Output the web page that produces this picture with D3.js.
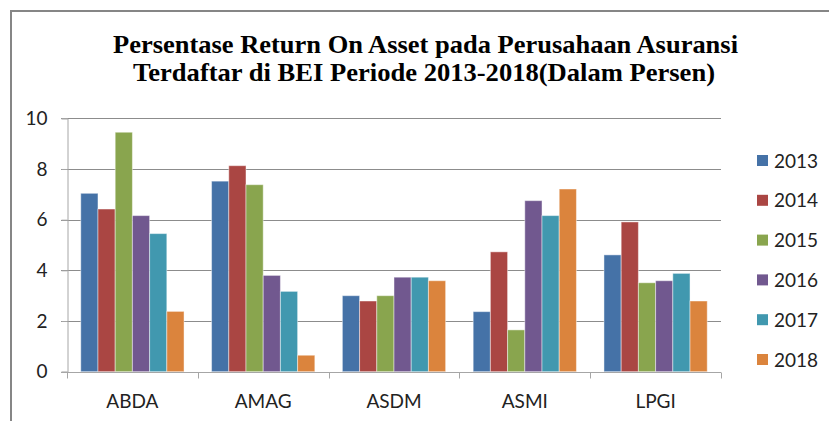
<!DOCTYPE html>
<html lang="id">
<head>
<meta charset="UTF-8">
<title>Return On Asset Asuransi</title>
<script src="https://d3js.org/d3.v7.min.js"></script>
<style>
  body { margin: 0; background: #fff; }
  svg { display: block; }
</style>
</head>
<body>
<svg id="chart"></svg>
<script>
// data
var categories = ["ABDA", "AMAG", "ASDM", "ASMI", "LPGI"];
var years = ["2013", "2014", "2015", "2016", "2017", "2018"];
var v2013 = [7.04, 7.52, 3.00, 2.37, 4.61];
var v2014 = [6.42, 8.13, 2.79, 4.73, 5.91];
var v2015 = [9.45, 7.38, 3.00, 1.65, 3.51];
var v2016 = [6.16, 3.80, 3.73, 6.75, 3.59];
var v2017 = [5.45, 3.17, 3.73, 6.16, 3.88];
var v2018 = [2.38, 0.65, 3.59, 7.21, 2.79];
var yTicks = [0, 2, 4, 6, 8, 10];
var colors = ["#4572A7", "#AA4643", "#89A54E", "#71588F", "#4198AF", "#DB843D"];

var series = [v2013, v2014, v2015, v2016, v2017, v2018];

var W = 829, H = 421;
var svg = d3.select("#chart").attr("width", W).attr("height", H);

// outer frame (cut off at right and bottom)
svg.append("path")
    .attr("d", "M11," + H + "V11H" + W)
    .attr("fill", "none")
    .attr("stroke", "#868686")
    .attr("stroke-width", 2);

// title
var title = svg.append("g")
    .attr("font-family", "'Liberation Serif', 'Times New Roman', serif")
    .attr("font-weight", "bold")
    .attr("font-size", 25)
    .attr("fill", "#000");
title.append("text").attr("x", 113).attr("y", 53)
    .attr("textLength", 625).attr("lengthAdjust", "spacingAndGlyphs")
    .text("Persentase Return  On Asset pada  Perusahaan Asuransi");
title.append("text").attr("x", 133).attr("y", 81)
    .attr("textLength", 582).attr("lengthAdjust", "spacingAndGlyphs")
    .text("Terdaftar  di BEI Periode 2013-2018(Dalam Persen)");

// scales
var plot = { left: 67, right: 721, top: 118.3, bottom: 371.7 };
var x = d3.scaleBand().domain(categories).range([plot.left, plot.right]).padding(0);
var xi = d3.scaleBand().domain(years).range([0, x.bandwidth()])
    .paddingInner(0).paddingOuter(0.8);
var y = d3.scaleLinear().domain([0, 10]).range([plot.bottom, plot.top]);

var font = "Lato, 'Open Sans', sans-serif";

// gridlines
svg.append("g")
    .selectAll("line")
    .data(yTicks.filter(function (d) { return d > 0; }))
    .enter().append("line")
    .attr("x1", plot.left - 6).attr("x2", plot.right)
    .attr("y1", function (d) { return Math.round(y(d)) + 0.5; })
    .attr("y2", function (d) { return Math.round(y(d)) + 0.5; })
    .attr("stroke", "#8c8c8c")
    .attr("stroke-width", 1);

// y axis
var yAxis = svg.append("g")
    .attr("transform", "translate(" + (plot.left + 0.5) + ",0)")
    .call(d3.axisLeft(y).tickValues(yTicks).tickSize(6).tickPadding(14)
        .tickFormat(d3.format("d")));
yAxis.select(".domain").attr("stroke", "#a6a6a6");
yAxis.selectAll(".tick line").attr("stroke", "#a6a6a6");
yAxis.selectAll(".tick text")
    .attr("font-family", font).attr("font-size", 19).attr("fill", "#222");

// bars
var groups = svg.append("g")
    .selectAll("g")
    .data(series)
    .enter().append("g")
    .attr("fill", function (d, i) { return colors[i]; });

groups.each(function (vals, si) {
    d3.select(this).selectAll("rect")
        .data(vals)
        .enter().append("rect")
        .attr("x", function (d, ci) { return x(categories[ci]) + xi(years[si]); })
        .attr("width", xi.bandwidth())
        .attr("y", function (d) { return y(d); })
        .attr("height", function (d) { return y(0) - y(d); })
        .attr("stroke", "rgba(255,255,255,0.45)")
        .attr("stroke-width", 1);
});

// x axis
var xAxis = svg.append("g")
    .attr("transform", "translate(0," + (Math.round(y(0)) + 0.5) + ")")
    .call(d3.axisBottom(x).tickSize(0).tickPadding(22));
xAxis.select(".domain").attr("stroke", "#a6a6a6").attr("d", "M" + (plot.left - 6) + ",0H" + plot.right);
xAxis.selectAll(".tick text")
    .attr("font-family", font).attr("font-size", 19).attr("fill", "#222");
xAxis.append("g")
    .selectAll("line")
    .data(d3.range(categories.length + 1))
    .enter().append("line")
    .attr("x1", function (i) { return Math.round(plot.left + i * x.step()) + 0.5; })
    .attr("x2", function (i) { return Math.round(plot.left + i * x.step()) + 0.5; })
    .attr("y1", 0).attr("y2", 6)
    .attr("stroke", "#a6a6a6");

// legend
var legend = svg.append("g")
    .selectAll("g")
    .data(years)
    .enter().append("g")
    .attr("transform", function (d, i) { return "translate(757," + (161 + i * 39.8) + ")"; });
legend.append("rect")
    .attr("x", 0).attr("y", -6).attr("width", 11).attr("height", 11)
    .attr("fill", function (d, i) { return colors[i]; });
legend.append("text")
    .attr("x", 17).attr("y", 0).attr("dy", "0.35em")
    .attr("font-family", font).attr("font-size", 19).attr("fill", "#222")
    .text(function (d) { return d; });
</script>
</body>
</html>
